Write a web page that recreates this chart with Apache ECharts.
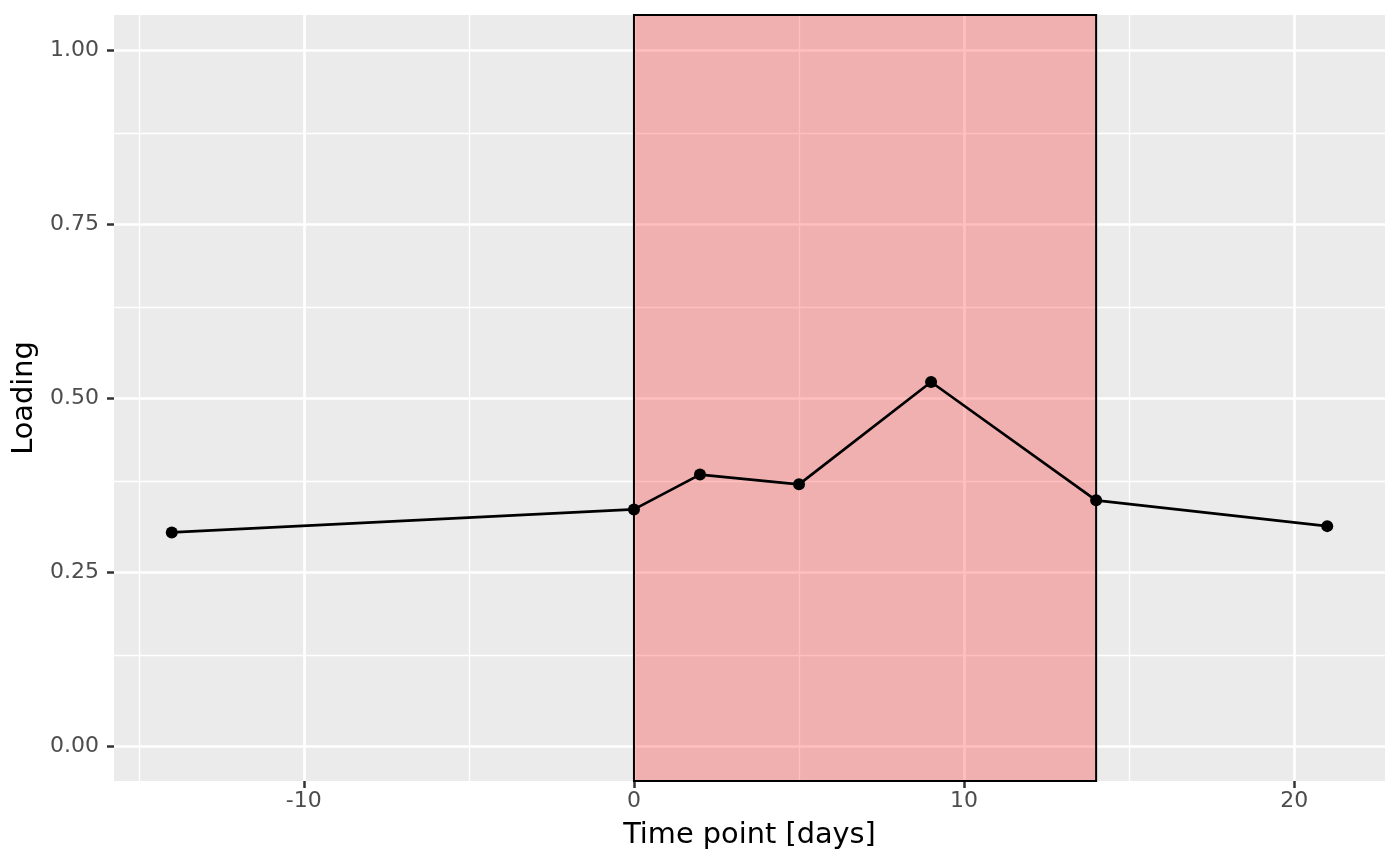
<!DOCTYPE html>
<html>
<head>
<meta charset="utf-8">
<script src="https://cdn.jsdelivr.net/npm/echarts@6/dist/echarts.min.js"></script>
<style>html,body{margin:0;padding:0;background:#fff}#c{width:1400px;height:865px}</style>
</head>
<body>
<div id="c"></div>
<script>
// Data
var timePoints = [-14, 0, 2, 5, 9, 14, 21];
var loadings = [0.307, 0.340, 0.390, 0.376, 0.523, 0.353, 0.316];
var shadeStart = 0;
var shadeEnd = 14;
var xMajorTicks = [-10, 0, 10, 20];
var xMinorTicks = [-15, -5, 5, 15];
var yMajorTicks = [0, 0.25, 0.5, 0.75, 1.0];
var yMinorTicks = [0.125, 0.375, 0.625, 0.875];
var xRange = [-15.75, 22.75];
var yRange = [-0.05, 1.05];

var FONT = 'DejaVu Sans';
var chart = echarts.init(document.getElementById('c'), null, {renderer: 'canvas'});

function vLines(vals) { return vals.map(function (v) { return {xAxis: v}; }); }
function hLines(vals) { return vals.map(function (v) { return {yAxis: v}; }); }

var option = {
  animation: false,
  backgroundColor: '#ffffff',
  grid: {
    left: 114, right: 15, top: 15, bottom: 84,
    show: true, backgroundColor: '#EBEBEB', borderWidth: 0
  },
  xAxis: {
    type: 'value',
    min: xRange[0], max: xRange[1],
    name: 'Time point [days]',
    nameLocation: 'middle',
    nameGap: 40,
    nameTextStyle: {fontFamily: FONT, fontSize: 28.8, color: '#000000'},
    axisLine: {show: false, onZero: false},
    axisTick: {show: true, customValues: xMajorTicks, length: 7, lineStyle: {color: '#333333', width: 2.5}},
    axisLabel: {
      customValues: xMajorTicks, margin: 9,
      fontFamily: FONT, fontSize: 22, color: '#4D4D4D',
      formatter: function (v) { return String(v); }
    },
    splitLine: {show: false},
    minorSplitLine: {show: false}
  },
  yAxis: {
    type: 'value',
    min: yRange[0], max: yRange[1],
    name: 'Loading',
    nameLocation: 'middle',
    nameGap: 65,
    nameTextStyle: {fontFamily: FONT, fontSize: 28.8, color: '#000000'},
    axisLine: {show: false, onZero: false},
    axisTick: {show: true, customValues: yMajorTicks, length: 7, lineStyle: {color: '#333333', width: 2.5}},
    axisLabel: {
      customValues: yMajorTicks, margin: 15,
      fontFamily: FONT, fontSize: 22, color: '#4D4D4D',
      formatter: function (v) { return v.toFixed(2); }
    },
    splitLine: {show: false},
    minorSplitLine: {show: false}
  },
  series: [
    {
      type: 'line', data: [], z: 1, silent: true,
      markLine: {
        z: 1,
        silent: true, symbol: 'none', animation: false,
        label: {show: false},
        lineStyle: {color: '#ffffff', width: 1.35, type: 'solid'},
        emphasis: {disabled: true},
        data: vLines(xMinorTicks).concat(hLines(yMinorTicks))
      }
    },
    {
      type: 'line', data: [], z: 1, silent: true,
      markLine: {
        z: 1,
        silent: true, symbol: 'none', animation: false,
        label: {show: false},
        lineStyle: {color: '#ffffff', width: 2.7, type: 'solid'},
        emphasis: {disabled: true},
        data: vLines(xMajorTicks).concat(hLines(yMajorTicks))
      }
    },
    {
      type: 'line', data: [], z: 3, silent: true,
      markArea: {
        z: 3,
        silent: true,
        itemStyle: {color: 'rgba(255,0,0,0.25)', borderColor: '#000000', borderWidth: 2},
        emphasis: {disabled: true},
        label: {show: false},
        data: [[{xAxis: shadeStart}, {xAxis: shadeEnd}]]
      }
    },
    {
      type: 'line', z: 5,
      data: timePoints.map(function (t, i) { return [t, loadings[i]]; }),
      symbol: 'circle', symbolSize: 12, showAllSymbol: true,
      lineStyle: {color: '#000000', width: 2.7},
      itemStyle: {color: '#000000', borderWidth: 0},
      emphasis: {disabled: true},
      silent: true
    }
  ]
};
chart.setOption(option);
</script>
</body>
</html>
